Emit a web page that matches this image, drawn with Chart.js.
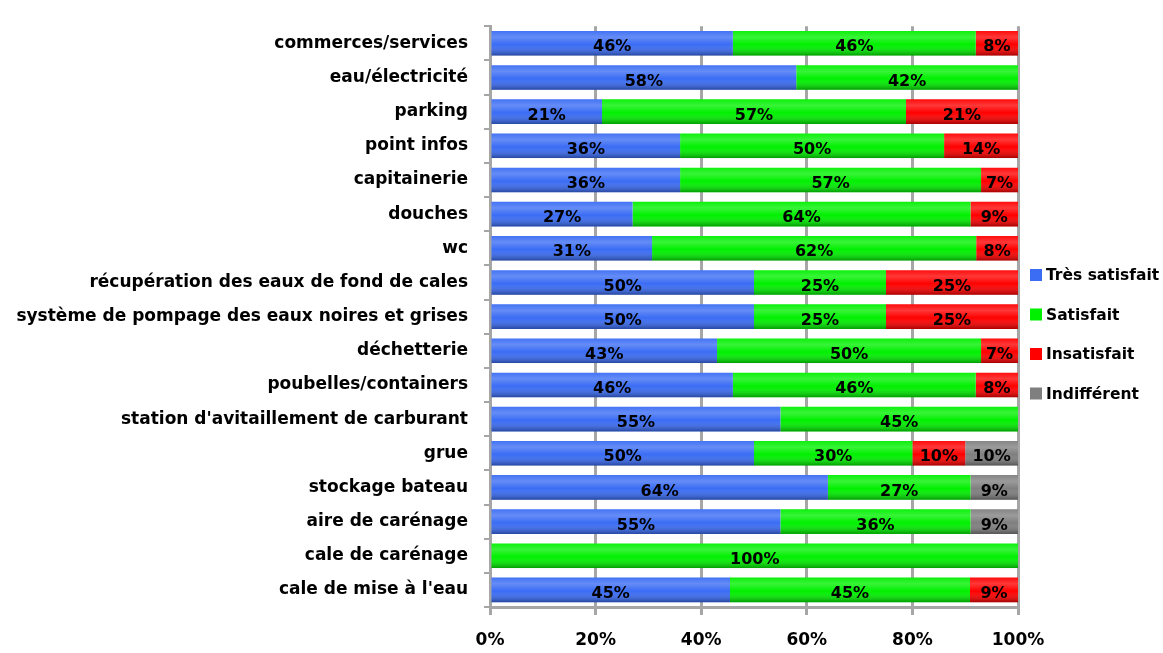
<!DOCTYPE html>
<html>
<head>
<meta charset="utf-8">
<script src="https://cdn.jsdelivr.net/npm/chart.js@4"></script>
<style>
  html, body { margin: 0; padding: 0; background: #fff; }
  #wrap { width: 1163px; height: 653px; }
</style>
</head>
<body>
<div id="wrap"><canvas id="satChart"></canvas></div>
<script>
// categories, top to bottom
const categories = [
    'commerces/services', 'eau/électricité', 'parking', 'point infos', 'capitainerie',
    'douches', 'wc', 'récupération des eaux de fond de cales',
    'système de pompage des eaux noires et grises', 'déchetterie', 'poubelles/containers',
    "station d'avitaillement de carburant", 'grue', 'stockage bateau',
    'aire de carénage', 'cale de carénage', "cale de mise à l'eau"
];
// percentages as printed on the bars (0 = no segment)
const tresSatisfait = [46, 58, 21, 36, 36, 27, 31, 50, 50, 43, 46, 55, 50, 64, 55, 0, 45];
const satisfait     = [46, 42, 57, 50, 57, 64, 62, 25, 25, 50, 46, 45, 30, 27, 36, 100, 45];
const insatisfait   = [8, 0, 21, 14, 7, 9, 8, 25, 25, 7, 8, 0, 10, 0, 0, 0, 9];
const indifferent   = [0, 0, 0, 0, 0, 0, 0, 0, 0, 0, 0, 0, 10, 9, 9, 0, 0];
const xTicks = ['0%', '20%', '40%', '60%', '80%', '100%'];

const seriesNames = ['Très satisfait', 'Satisfait', 'Insatisfait', 'Indifférent'];
const seriesColors = ['#3a6cf4', '#00f000', '#ff0000', '#7f7f7f'];
const seriesData = [tresSatisfait, satisfait, insatisfait, indifferent];

// 100% stacked: each row scaled to its own total, like the original chart
const rowTotals = categories.map((c, i) => seriesData.reduce((s, arr) => s + arr[i], 0));

const labelFont = { family: 'DejaVu Sans', size: 17, weight: 'bold' };

// shading so the bars look like tubes
const tubeShade = {
    id: 'tubeShade',
    afterDatasetsDraw(chart) {
        const ctx = chart.ctx;
        chart.data.datasets.forEach((ds, di) => {
            chart.getDatasetMeta(di).data.forEach((bar) => {
                const w = bar.x - bar.base;
                if (w <= 0) return;
                const top = bar.y - bar.height / 2;
                const g = ctx.createLinearGradient(0, top, 0, top + bar.height);
                g.addColorStop(0, 'rgba(255,255,255,0.05)');
                g.addColorStop(0.25, 'rgba(255,255,255,0.22)');
                g.addColorStop(0.55, 'rgba(255,255,255,0)');
                g.addColorStop(1, 'rgba(0,0,0,0.35)');
                ctx.save();
                ctx.fillStyle = g;
                ctx.fillRect(bar.base, top, w, bar.height);
                ctx.restore();
            });
        });
    }
};

// value labels in the middle of each segment
const valueLabels = {
    id: 'valueLabels',
    afterDatasetsDraw(chart) {
        const ctx = chart.ctx;
        ctx.save();
        ctx.font = 'bold 16px "DejaVu Sans"';
        ctx.fillStyle = '#000';
        ctx.textAlign = 'center';
        ctx.textBaseline = 'middle';
        chart.data.datasets.forEach((ds, di) => {
            chart.getDatasetMeta(di).data.forEach((bar, i) => {
                const v = seriesData[di][i];
                if (!v) return;
                ctx.fillText(v + '%', (bar.x + bar.base) / 2, bar.y + 4);
            });
        });
        ctx.restore();
    }
};

// legend drawn by hand on the right
const sideLegend = {
    id: 'sideLegend',
    afterDraw(chart) {
        const ctx = chart.ctx;
        const x = chart.chartArea.right + 12;
        ctx.save();
        ctx.font = 'bold 15.5px "DejaVu Sans"';
        ctx.textBaseline = 'middle';
        ctx.textAlign = 'left';
        seriesNames.forEach((name, i) => {
            const y = 275 + i * 39.5;
            ctx.fillStyle = seriesColors[i];
            ctx.fillRect(x, y - 6, 12, 12);
            ctx.fillStyle = '#000';
            ctx.fillText(name, x + 16, y + 1);
        });
        ctx.restore();
    }
};

const ctx = document.getElementById('satChart').getContext('2d');
new Chart(ctx, {
    type: 'bar',
    data: {
        labels: categories,
        datasets: seriesNames.map((name, di) => ({
            label: name,
            data: seriesData[di].map((v, i) => v / rowTotals[i] * 100),
            backgroundColor: seriesColors[di],
            borderWidth: 0,
            categoryPercentage: 0.72,
            barPercentage: 1
        }))
    },
    options: {
        indexAxis: 'y',
        responsive: true,
        maintainAspectRatio: false,
        animation: false,
        layout: { padding: { top: 21, right: 145, bottom: 0, left: 0 } },
        plugins: {
            legend: { display: false },
            tooltip: { enabled: false }
        },
        scales: {
            x: {
                stacked: true,
                min: 0,
                max: 100,
                afterFit: (scale) => { scale.height = 46; },
                ticks: {
                    stepSize: 20,
                    color: '#000',
                    font: labelFont,
                    padding: 15,
                    maxRotation: 0,
                    callback: (v, i) => xTicks[i]
                },
                grid: { color: '#a6a6a6', lineWidth: 3, tickLength: 8, tickColor: '#a6a6a6' },
                border: { color: '#a6a6a6', width: 3 }
            },
            y: {
                stacked: true,
                afterFit: (scale) => { scale.width = 490; },
                ticks: { color: '#000', font: labelFont, padding: 16 },
                grid: { drawOnChartArea: false, tickLength: 6, color: '#a6a6a6', lineWidth: 2 },
                border: { color: '#a6a6a6', width: 3 }
            }
        }
    },
    plugins: [tubeShade, valueLabels, sideLegend]
});
</script>
</body>
</html>
